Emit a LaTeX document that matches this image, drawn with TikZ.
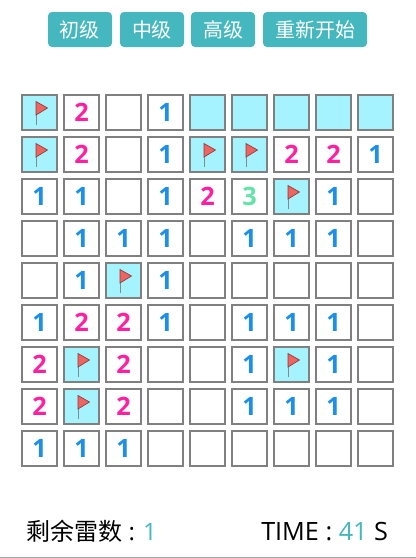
\documentclass[tikz,border=0pt]{standalone}
\usepackage{xcolor}
\usepackage{fontspec}
\setmainfont{Open Sans}
\newfontfamily\cjk{Noto Sans CJK SC}
\newfontfamily\numfont{Open Sans}
\definecolor{tealB}{HTML}{45B7BF}
\definecolor{sky}{HTML}{A4F3FF}
\definecolor{blueN}{HTML}{1E8FE8}
\definecolor{pinkN}{HTML}{FF20A0}
\definecolor{greenN}{HTML}{62E3A8}
\definecolor{flagR}{HTML}{EE6460}
\usetikzlibrary{positioning}

\begin{document}
\begin{tikzpicture}[
  x=0.75pt, y=-0.75pt,
  btn/.style={fill=tealB, text=white, rounded corners=3pt, minimum height=26.25pt, inner sep=0pt, outer sep=0pt, font=\cjk\fontsize{15pt}{15pt}\selectfont},
  cell/.style={draw=gray, line width=1.5pt, minimum size=26.25pt, inner sep=0pt, fill=white, font=\numfont\bfseries\fontsize{19pt}{19pt}\selectfont},
  cellE/.style={cell, node contents={}},
  cellU/.style={cell, fill=sky, node contents={}},
  cellF/.style={cellU},
  cell1/.style={cell, text=blueN, node contents={1}},
  cell2/.style={cell, text=pinkN, node contents={2}},
  cell3/.style={cell, text=greenN, node contents={3}},
  info/.style={inner sep=0pt, anchor=base west, font=\fontsize{18pt}{18pt}\selectfont}
]
\useasboundingbox (0,0) rectangle (416,558);
\fill[white] (0,0) rectangle (416,558);
% level buttons
\node[btn, minimum width=48pt, anchor=north west] (easy) at (48,12) {初级};
\node[btn, minimum width=48pt, right=6pt of easy] (mid) {中级};
\node[btn, minimum width=48pt, right=5.25pt of mid] (hard) {高级};
\node[btn, minimum width=78pt, right=6pt of hard] (restart) {重新开始};
% board
\foreach \row [count=\j from 0] in {
  {F,2,E,1,U,U,U,U,U},
  {F,2,E,1,F,F,2,2,1},
  {1,1,E,1,2,3,F,1,E},
  {E,1,1,1,E,1,1,1,E},
  {E,1,F,1,E,E,E,E,E},
  {1,2,2,1,E,1,1,1,E},
  {2,F,2,E,E,1,F,1,E},
  {2,F,2,E,E,1,1,1,E},
  {1,1,1,E,E,E,E,E,E}} {
  \foreach \val [count=\i from 0] in \row {
    \node (c-\i-\j) [cell\val, at={(39.5+42*\i,112.5+42*\j)}];
  }
}
% flags
\foreach \c in {0-0,0-1,4-1,5-1,6-2,2-4,1-6,6-6,1-7} {
  \begin{scope}[shift={(c-\c.center)}]
    \draw[gray!90!sky, line width=0.75pt] (-3.5,-4) -- (-3.5,12.5);
    \filldraw[fill=flagR, draw=flagR!60!black, line width=0.5pt] (-3.5,-11) -- (8,-4.5) -- (-3.5,2.5) -- cycle;
  \end{scope}
}
% status line
\node[info] (mines) at (26,540) {{\cjk 剩余雷数} : \textcolor{tealB}{1}};
\node[info, font=\fontsize{18.9pt}{18.9pt}\selectfont] (timer) at (261,540) {TIME : \textcolor{tealB}{41} S};
\draw[gray!70, line width=0.75pt] (0,557.5) -- (416,557.5);
\end{tikzpicture}
\end{document}
